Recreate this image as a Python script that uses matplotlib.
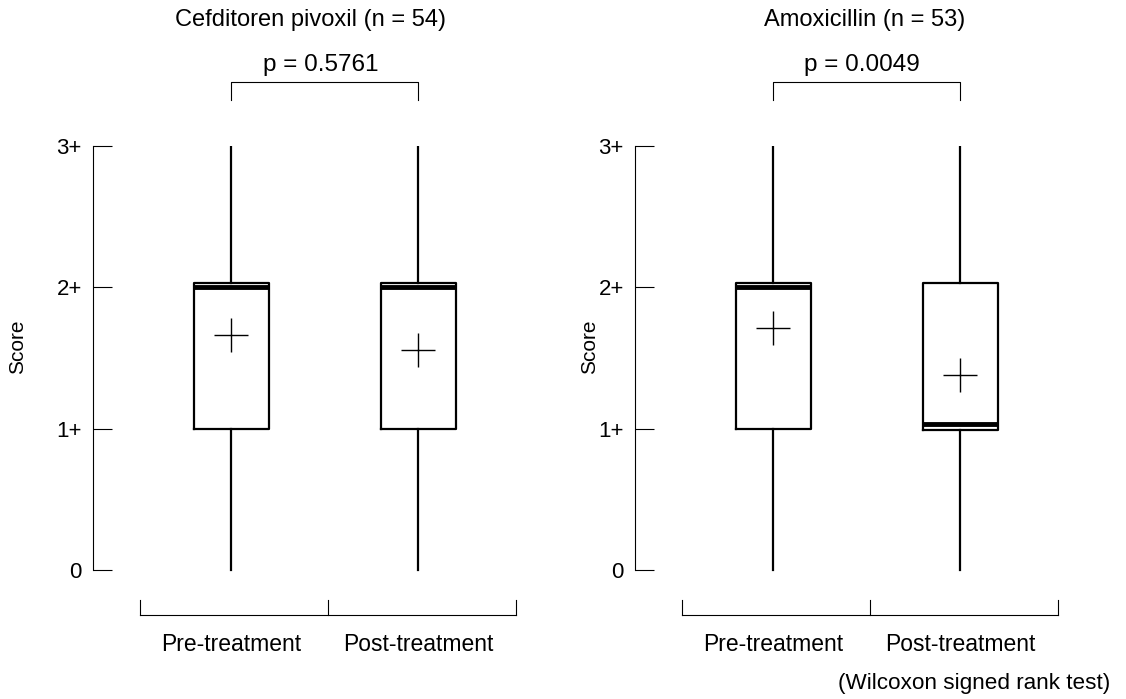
import matplotlib.pyplot as plt
from matplotlib.lines import Line2D

plt.rcParams['font.family'] = ['Liberation Sans', 'DejaVu Sans']

titles = ['Cefditoren pivoxil (n = 54)', 'Amoxicillin (n = 53)']
p_values = ['p = 0.5761', 'p = 0.0049']
conditions = ['Pre-treatment', 'Post-treatment']
score_ticks = [0, 1, 2, 3]
score_labels = ['0', '1+', '2+', '3+']

# per panel: [pre, post]
whislo = [[0, 0], [0, 0]]
q1 = [[1.0, 1.0], [1.0, 0.99]]
med = [[2.0, 2.0], [2.0, 1.03]]
q3 = [[2.03, 2.03], [2.03, 2.03]]
whishi = [[3, 3], [3, 3]]
means = [[1.66, 1.56], [1.71, 1.38]]

fig = plt.figure(figsize=(11.26, 6.99), dpi=100)
lefts = [93 / 1126, 635 / 1126]
w = 437.6 / 1126
bottom = 1 - 654.8 / 699
h = (654.8 - 146) / 699
score_x = [-0.1725, -0.104]
title_x = [1.422, 1.487]
p_x = [1.48, 1.474]

for i in range(2):
    ax = fig.add_axes([lefts[i], bottom, w, h])
    stats = []
    for j in range(2):
        stats.append(dict(whislo=whislo[i][j], q1=q1[i][j], med=med[i][j],
                          q3=q3[i][j], whishi=whishi[i][j], mean=means[i][j]))
    ax.bxp(stats, positions=[1, 2], widths=0.4, showcaps=False, showmeans=True,
           showfliers=False,
           boxprops=dict(color='black', linewidth=1.6),
           whiskerprops=dict(color='black', linewidth=1.6),
           medianprops=dict(color='black', linewidth=3.5),
           meanprops=dict(marker='+', markersize=25, markeredgecolor='black',
                          markeredgewidth=1.0))
    ax.set_xlim(0.26, 2.6)
    ax.set_ylim(-0.6, 3.0)
    for s in ['top', 'right', 'bottom']:
        ax.spines[s].set_visible(False)
    ax.spines['left'].set_bounds(0, 3)
    ax.spines['left'].set_linewidth(0.8)
    ax.set_yticks(score_ticks)
    ax.set_yticklabels(score_labels, fontsize=16)
    ax.tick_params(axis='y', direction='in', length=14, width=0.8, pad=8)
    ax.set_xticks([])
    ax.text(score_x[i], 0.606, 'Score', rotation=90, ha='center', va='center',
            fontsize=15, transform=ax.transAxes)

    # category bracket below
    yb, yt = -0.318, -0.212
    ax.add_line(Line2D([0.51, 2.52], [yb, yb], color='black', lw=0.8, clip_on=False))
    for xv in [0.51, 1.515, 2.52]:
        ax.add_line(Line2D([xv, xv], [yb, yt], color='black', lw=0.8, clip_on=False))
    for j, c in enumerate(conditions):
        ax.text(j + 1, -0.53, c, ha='center', va='center', fontsize=16.5)

    # p-value bracket above
    ax.add_line(Line2D([1, 1, 2, 2], [3.326, 3.454, 3.454, 3.326], color='black',
                       lw=0.8, clip_on=False))
    ax.text(p_x[i], 3.574, p_values[i], ha='center', va='center', fontsize=17.5)
    ax.text(title_x[i], 3.89, titles[i], ha='center', va='center', fontsize=17)

fig.text(1110 / 1126, 1 - 683 / 699, '(Wilcoxon signed rank test)', ha='right',
         va='center', fontsize=16.2)

fig.savefig('out.png', dpi=100)
